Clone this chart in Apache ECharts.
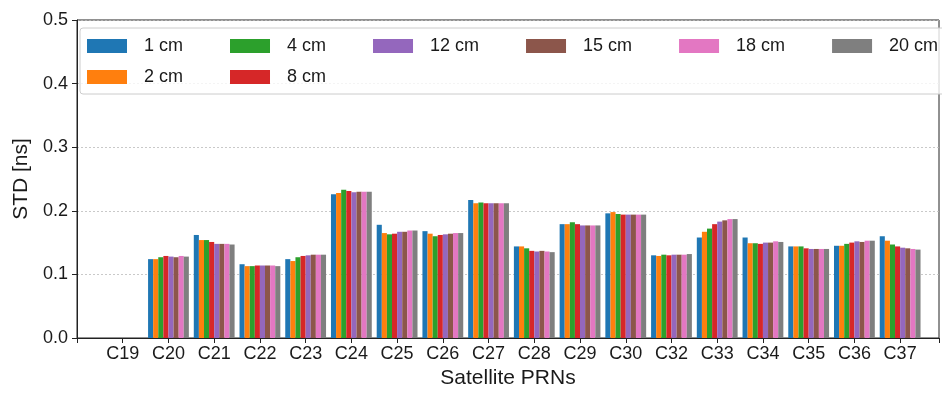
<!DOCTYPE html>
<html lang="en" style="height: 100%">
<head>
  <meta charset="utf-8">
  <title>std_prn</title>
  <script src="https://cdn.jsdelivr.net/npm/echarts@6/dist/echarts.min.js"></script>
</head>
<body style="height: 100%; margin: 0; background: #fff">
  <div id="container" style="width: 942px; height: 394px"></div>
  <script type="text/javascript">
    // satellite PRNs on the x axis (C19 has no values)
    var prns = ['C19', 'C20', 'C21', 'C22', 'C23', 'C24', 'C25', 'C26', 'C27',
      'C28', 'C29', 'C30', 'C32', 'C33', 'C34', 'C35', 'C36', 'C37'];
    var names = ['1 cm', '2 cm', '4 cm', '8 cm', '12 cm', '15 cm', '18 cm', '20 cm'];
    var colors = ['#1f77b4', '#ff7f0e', '#2ca02c', '#d62728', '#9467bd', '#8c564b', '#e377c2', '#7f7f7f'];
    // legend rows as laid out in the figure (6 columns, first two hold two entries)
    var legendRow1 = ['1 cm', '4 cm', '12 cm', '15 cm', '18 cm', '20 cm'];
    var legendRow2 = ['2 cm', '8 cm'];

    // STD [ns], one array per setting, same order as prns
    var std1 = [null, 0.124, 0.162, 0.116, 0.124, 0.226, 0.178, 0.168, 0.217, 0.144, 0.179, 0.196, 0.130, 0.158, 0.158, 0.144, 0.145, 0.160];
    var std2 = [null, 0.124, 0.154, 0.113, 0.121, 0.228, 0.165, 0.164, 0.212, 0.144, 0.179, 0.198, 0.129, 0.167, 0.149, 0.144, 0.145, 0.153];
    var std4 = [null, 0.127, 0.154, 0.113, 0.127, 0.233, 0.163, 0.160, 0.213, 0.141, 0.182, 0.195, 0.131, 0.172, 0.149, 0.144, 0.148, 0.147];
    var std8 = [null, 0.129, 0.151, 0.114, 0.129, 0.231, 0.164, 0.162, 0.212, 0.137, 0.179, 0.194, 0.130, 0.179, 0.148, 0.141, 0.150, 0.144];
    var std12 = [null, 0.128, 0.148, 0.114, 0.130, 0.229, 0.167, 0.163, 0.212, 0.136, 0.177, 0.194, 0.131, 0.183, 0.150, 0.140, 0.152, 0.142];
    var std15 = [null, 0.127, 0.148, 0.114, 0.131, 0.230, 0.167, 0.164, 0.212, 0.137, 0.177, 0.194, 0.131, 0.185, 0.150, 0.140, 0.151, 0.141];
    var std18 = [null, 0.129, 0.148, 0.114, 0.131, 0.230, 0.169, 0.165, 0.212, 0.136, 0.177, 0.194, 0.131, 0.187, 0.152, 0.140, 0.153, 0.140];
    var std20 = [null, 0.128, 0.147, 0.113, 0.131, 0.230, 0.169, 0.165, 0.212, 0.135, 0.177, 0.194, 0.132, 0.187, 0.151, 0.140, 0.153, 0.139];
    var values = [std1, std2, std4, std8, std12, std15, std18, std20];

    var font = 'Liberation Sans, Arial, sans-serif';
    var myChart = echarts.init(document.getElementById('container'), null, { renderer: 'canvas' });

    var series = names.map(function (name, k) {
      return {
        name: name,
        type: 'bar',
        barWidth: 5.1,
        barGap: 0,
        itemStyle: { color: colors[k] },
        data: values[k].map(function (v, i) { return [i, v]; })
      };
    });

    var legendBase = {
      orient: 'horizontal',
      left: 80,
      width: 1000,
      itemGap: 47,
      itemWidth: 40,
      itemHeight: 14,
      icon: 'rect',
      formatter: function (name) { return '{t|' + name + '}'; },
      textStyle: {
        fontSize: 18, color: '#1a1a1a', fontFamily: font,
        rich: { t: { fontSize: 18, color: '#1a1a1a', fontFamily: font, padding: [0, 0, 0, 12] } }
      }
    };

    var option = {
      animation: false,
      textStyle: { fontFamily: font },
      grid: {
        left: 77, top: 20, right: -2, bottom: 52,
        show: true, borderColor: '#222', borderWidth: 1
      },
      legend: [
        Object.assign({}, legendBase, {
          data: legendRow1,
          top: 28,
          padding: [9, 40, 39, 7],
          backgroundColor: 'rgba(255,255,255,0.8)',
          borderColor: '#cccccc',
          borderWidth: 1,
          borderRadius: 3
        }),
        Object.assign({}, legendBase, {
          data: legendRow2,
          top: 60,
          padding: [8, 0, 0, 7],
          z: 5
        })
      ],
      xAxis: {
        type: 'value',
        min: -1,
        max: 17.85,
        interval: 1,
        name: 'Satellite PRNs',
        nameLocation: 'middle',
        nameGap: 30,
        nameTextStyle: { fontSize: 21, color: '#1a1a1a' },
        splitLine: { show: false },
        axisLine: { onZero: false, lineStyle: { color: '#222', width: 1 } },
        axisTick: { length: 5, lineStyle: { color: '#222' } },
        axisLabel: {
          fontSize: 18, color: '#1a1a1a', margin: 7,
          showMinLabel: true, showMaxLabel: true,
          formatter: function (v) {
            return (Number.isInteger(v) && v >= 0 && v < prns.length) ? prns[v] : '';
          }
        }
      },
      yAxis: {
        type: 'value',
        min: 0,
        max: 0.5,
        interval: 0.1,
        name: 'STD [ns]',
        nameLocation: 'middle',
        nameGap: 45,
        nameTextStyle: { fontSize: 21, color: '#1a1a1a' },
        axisLine: { show: true, onZero: false, lineStyle: { color: '#222', width: 1 } },
        axisTick: { show: true, length: 5, lineStyle: { color: '#222' } },
        axisLabel: {
          fontSize: 18, color: '#1a1a1a', margin: 9,
          formatter: function (v) { return v.toFixed(1); }
        },
        splitLine: { show: true, lineStyle: { color: '#bbbbbb', type: [2, 2], width: 0.8 } }
      },
      series: series
    };

    myChart.setOption(option);
    window.addEventListener('resize', myChart.resize);
  </script>
</body>
</html>
